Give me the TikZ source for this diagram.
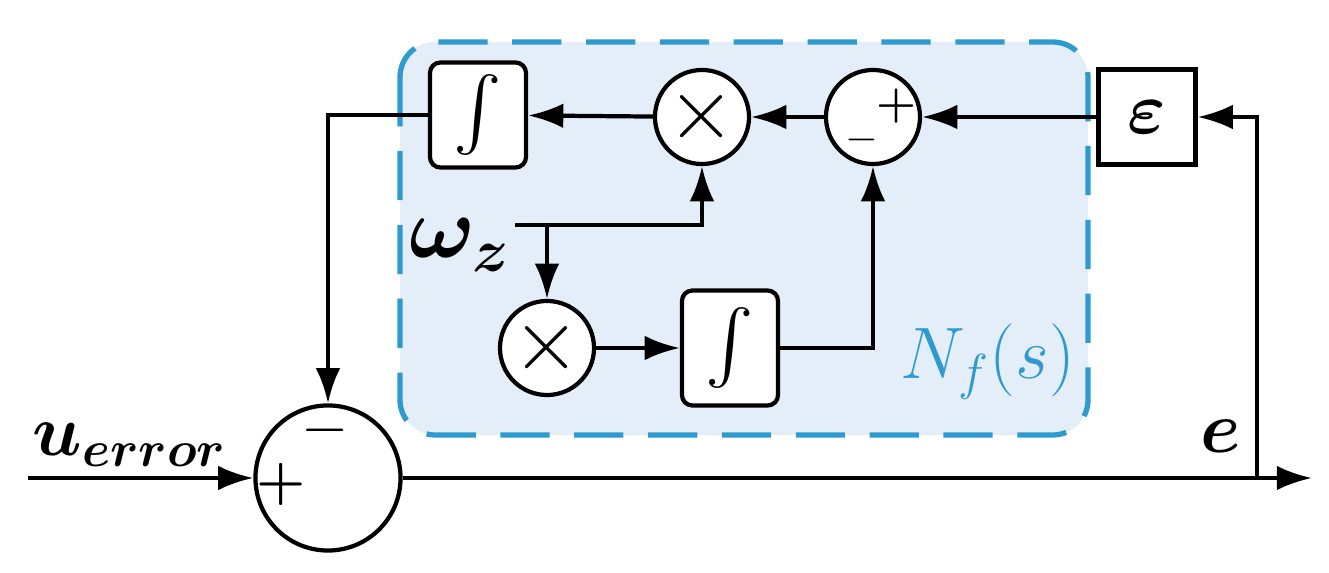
\documentclass[tikz,border=0pt]{standalone}
\usepackage{amsmath,bm}
\usetikzlibrary{arrows.meta}
\definecolor{nfblue}{HTML}{2E9AD0}
\definecolor{nffill}{HTML}{E4EEF8}
\begin{document}
\begin{tikzpicture}[x=0.01cm,y=-0.01cm,line width=1.2pt,
  >={Latex[length=10pt,width=7pt]},
  blk/.style={draw,fill=white,rounded corners=3pt,minimum width=0.96cm,minimum height=1.05cm,inner sep=0pt},
  sq/.style={draw,fill=white,minimum width=0.97cm,minimum height=0.95cm,inner sep=0pt},
  sm/.style={draw,fill=white,circle,minimum size=0.94cm,inner sep=0pt},
  sg/.style={inner sep=0pt,font=\fontsize{13}{13}\bfseries\selectfont},
  big/.style={font=\fontsize{22}{26}\selectfont}]
\useasboundingbox (0,0) rectangle (1329,573);
\draw[nfblue,dashed,dash pattern=on 14pt off 7pt,fill=nffill,line width=1.5pt,rounded corners=10pt] (400,42) rectangle (1088,435);
\node[blk] (i1) at (478,115) {\fontsize{22}{26}\selectfont$\int$};
\node[sm] (m1) at (702,117) {\fontsize{26}{26}\selectfont$\times$};
\node[sm] (s1) at (873,117) {};
\node[sg] at (896,106) {+};
\node[sg] at (862,140) {$-$};
\node[sq] (ep) at (1147,117) {\fontsize{22}{26}\selectfont$\bm{\varepsilon}$};
\node[sm] (m2) at (547,348) {\fontsize{26}{26}\selectfont$\times$};
\node[blk,minimum height=1.15cm] (i2) at (730,348) {\fontsize{22}{26}\selectfont$\int$};
\node[draw,circle,fill=white,minimum size=1.45cm,inner sep=0pt] (s0) at (328,478) {};
\node[sg,font=\fontsize{16}{16}\bfseries\selectfont] at (281,484) {+};
\node[sg,font=\fontsize{18}{18}\bfseries\selectfont] at (325,430) {$-$};
\coordinate (in) at (28,478);
\coordinate (out) at (1312,478);
\coordinate (br) at (1257,478);
\coordinate (wz) at (515,225);
\coordinate (bz) at (547,225);
\draw[->] (in) -- (s0);
\draw[->] (s0) -- (out);
\draw[->] (br) |- (ep);
\draw[->] (ep) -- (s1);
\draw[->] (s1) -- (m1);
\draw[->] (m1) -- (i1);
\draw[->] (i1.west) -| (s0.north);
\draw[->] (wz) -| (m1.south);
\draw[->] (bz) -- (m2.north);
\draw[->] (m2) -- (i2);
\draw[->] (i2.east) -| (s1.south);
\node[font=\fontsize{26}{30}\selectfont] at (460,245) {$\bm{\omega_z}$};
\node[big] at (130,445) {$\bm{u_{error}}$};
\node[big] at (1221,436) {$\bm{e}$};
\node[nfblue,font=\fontsize{20}{24}\selectfont] at (988,362) {$N_f(s)$};
\end{tikzpicture}
\end{document}
